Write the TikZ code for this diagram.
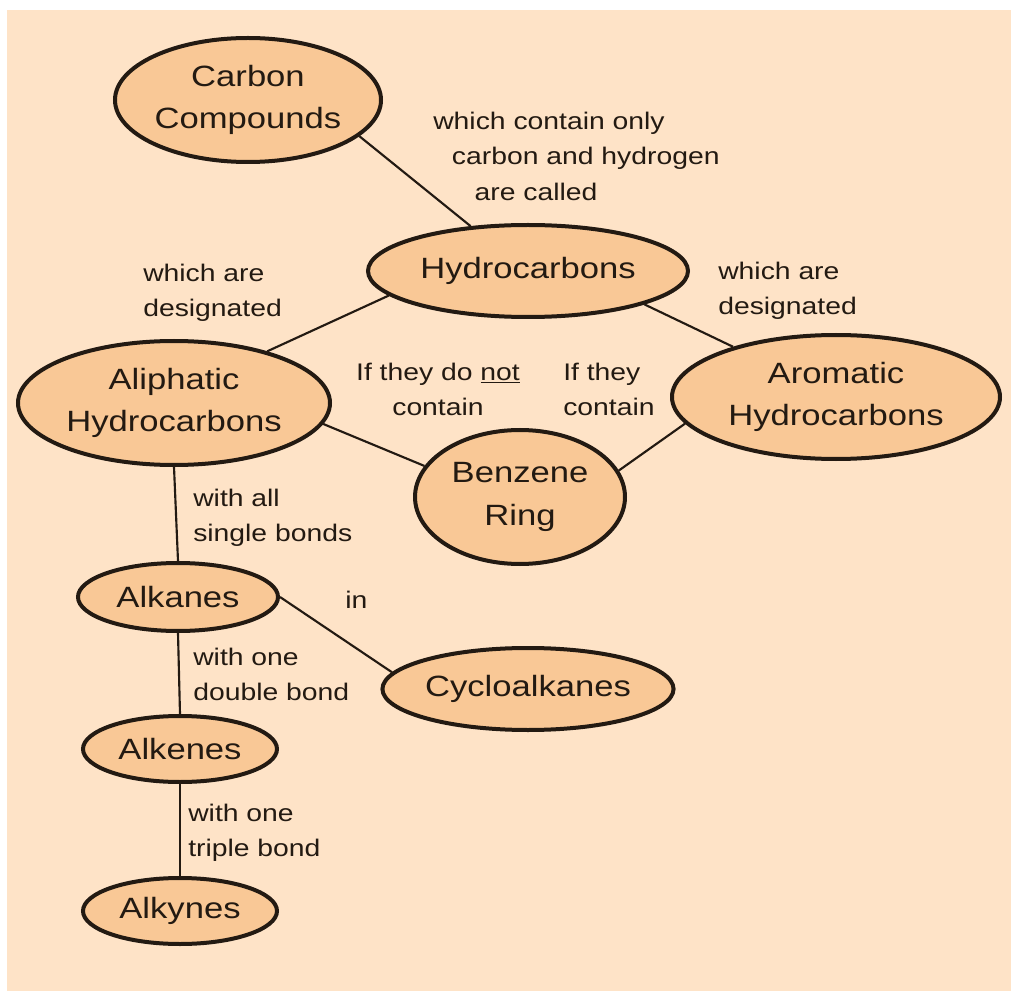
\documentclass[tikz,border=0pt]{standalone}
\usepackage{fontspec}
\setmainfont{Liberation Sans}[FakeStretch=1.18]
\usetikzlibrary{shapes.geometric}
\definecolor{bgpeach}{HTML}{FEE3C7}
\definecolor{nodefill}{HTML}{F9C896}
\definecolor{ink}{HTML}{231A12}
\tikzset{
  concept/.style={ellipse, draw=ink, line width=3pt, fill=nodefill, inner sep=0pt,
    text=ink, align=center, font=\fontsize{22}{32}\selectfont},
  radii/.style 2 args={minimum width=#1*1.5pt, minimum height=#2*1.5pt},
  link/.style={draw=ink, line width=1.6pt},
  lbl/.style={text=ink, inner sep=0pt, font=\fontsize{18}{26.5}\selectfont}
}
\begin{document}
\begin{tikzpicture}[x=0.75pt,y=-0.75pt]
\useasboundingbox (0,0) rectangle (1011,991);
\fill[white] (0,0) rectangle (1011,991);
\fill[bgpeach] (7,10) rectangle (1011,991);

% concepts
\node[concept, radii={133}{62}] (carbon) at (248,100) {Carbon\\Compounds};
\node[concept, radii={160}{46}] (hydro) at (528,271) {Hydrocarbons};
\node[concept, radii={156}{62}] (ali) at (174,403) {Aliphatic\\Hydrocarbons};
\node[concept, radii={164}{62}] (aro) at (836,397) {Aromatic\\Hydrocarbons};
\node[concept, radii={105}{67}] (benz) at (520,497) {Benzene\\Ring};
\node[concept, radii={100}{34}] (alkanes) at (178,597) {Alkanes};
\node[concept, radii={140}{41}] (cyclo) at (528,689) {Cycloalkanes};
\node[concept, radii={97}{33}] (alkenes) at (180,749) {Alkenes};
\node[concept, radii={97}{33}] (alkynes) at (180,911) {Alkynes};

% connectors
\draw[link] (carbon.-18) -- (hydro.142);
\draw[link] (hydro.190) -- (ali.29);
\draw[link] (hydro.-16) -- (aro.154);
\draw[link] (ali.-8) -- (benz.162);
\draw[link] (aro.190) -- (benz.15);
\draw[link] (ali.south) -- (alkanes.north);
\draw[link] (alkanes.east) -- (cyclo.173);
\draw[link] (alkanes.south) -- (alkenes.north);
\draw[link] (alkenes.south) -- (alkynes.north);

% labels
\node[lbl, anchor=north west, align=left] (l1) at (433,112)
  {which contain only\\\hspace*{14pt}carbon and hydrogen\\\hspace*{31pt}are called};
\node[lbl, anchor=north west, align=left] (l2) at (143,264) {which are\\designated};
\node[lbl, anchor=north west, align=left] (l3) at (718,262) {which are\\designated};
\node[lbl, anchor=north, align=center] (l4) at (438,363) {If they do \underline{not}\\contain};
\node[lbl, anchor=north west, align=left] (l5) at (563,363) {If they\\contain};
\node[lbl, anchor=north west, align=left] (l6) at (193,489) {with all\\single bonds};
\node[lbl, anchor=north west, align=left] (l7) at (345,591) {in};
\node[lbl, anchor=north west, align=left] (l8) at (193,648) {with one\\double bond};
\node[lbl, anchor=north west, align=left] (l9) at (188,804) {with one\\triple bond};
\end{tikzpicture}
\end{document}
